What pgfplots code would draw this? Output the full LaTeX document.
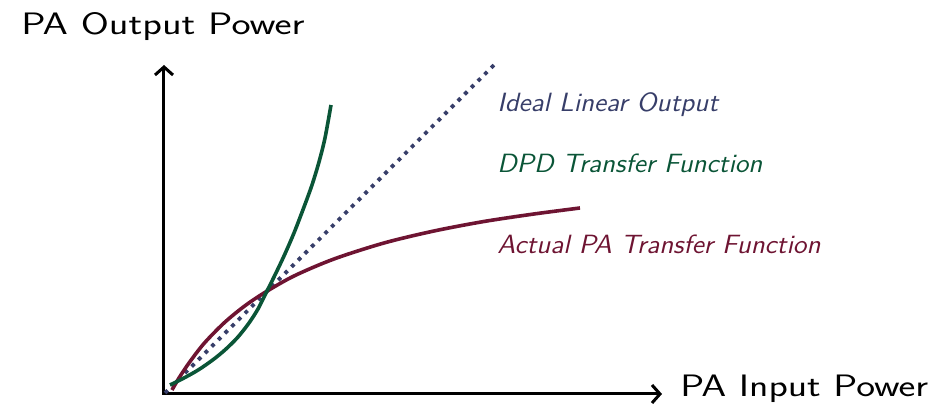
\documentclass[border=0pt]{standalone}
\usepackage{graphicx}
\usepackage{pgfplots}
\pgfplotsset{compat=1.18}
\usetikzlibrary{arrows.meta}
\definecolor{idealc}{RGB}{55,62,105}
\definecolor{dpdc}{RGB}{10,85,55}
\definecolor{pac}{RGB}{110,20,50}
\newcommand{\mainlab}[2]{\fontsize{15.5pt}{18pt}\selectfont\scalebox{#1}[1]{#2}}
\newcommand{\curvelab}[1]{\fontsize{13.2pt}{16pt}\selectfont\scalebox{1.05}[1]{#1}}
\begin{document}
\begin{tikzpicture}
\path[use as bounding box] (-82pt,-10.5pt) rectangle (386.5pt,197pt);
\begin{axis}[anchor=origin, at={(0,0)}, x=0.5pt, y=0.5pt,
  xmin=0, xmax=498, ymin=0, ymax=329,
  axis lines=left,
  axis line style={line width=1.5pt, line cap=rect, -{Straight Barb[length=4pt,width=9pt]}},
  xtick=\empty, ytick=\empty, clip=false, font=\sffamily]
\addplot[idealc, line width=1.9pt, dash pattern=on 1.9pt off 2.8pt] coordinates {(1,1) (332,331)};
\addplot[pac, line width=1.8pt, smooth] coordinates {(8,4) (15,16) (25,31) (40,50.5) (60,71) (80,87.5) (100,101) (130,118) (170,135) (220,151) (270,163) (320,172.5) (370,180) (416,186)};
\addplot[dpdc, line width=1.8pt, smooth] coordinates {(6,9) (20,16) (35,24.5) (50,35) (62,45) (74,57) (85,71) (94,85) (101,99) (110,117) (120,138) (130,161) (140,187) (148,209) (155,232) (161,256) (167,289)};
\node[anchor=base, inner sep=0pt] at (axis cs:-1,359) {\mainlab{1.31}{PA Output Power}};
\node[anchor=base west, inner sep=0pt] at (axis cs:516,-3) {\mainlab{1.29}{PA Input Power}};
\node[anchor=base west, inner sep=0pt, font=\sffamily\itshape, text=idealc] at (axis cs:333,282) {\curvelab{Ideal Linear Output}};
\node[anchor=base west, inner sep=0pt, font=\sffamily\itshape, text=dpdc] at (axis cs:333,221) {\curvelab{DPD Transfer Function}};
\node[anchor=base west, inner sep=0pt, font=\sffamily\itshape, text=pac] at (axis cs:333,140) {\curvelab{Actual PA Transfer Function}};
\end{axis}
\end{tikzpicture}
\end{document}
